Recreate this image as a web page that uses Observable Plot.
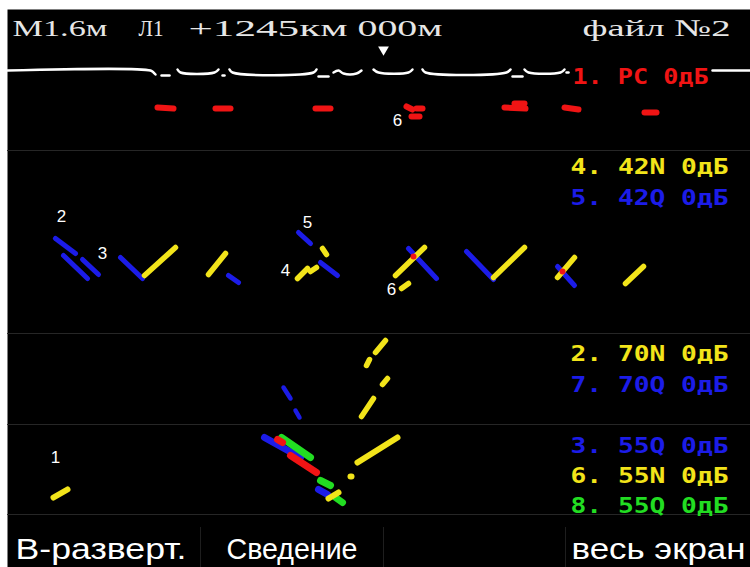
<!DOCTYPE html>
<html><head><meta charset="utf-8">
<script src="https://cdn.jsdelivr.net/npm/d3@7"></script>
<script src="https://cdn.jsdelivr.net/npm/@observablehq/plot@0.6"></script>
<style>
html,body{margin:0;padding:0;background:#fff;}
#chart svg{display:block;}
</style></head><body><div id="chart"></div>
<script>
// ================= DATA =================
// header of the flaw-detector screen
const headerText = ["М1.6м", "Л1", "+1245км", "000м", "файл №2"];
// bottom menu
const menuText = ["В-разверт.", "Сведение", "весь экран"];
// channel legend (number, angle, gain)
const legendText = ["1. PC 0дБ", "4. 42N 0дБ", "5. 42Q 0дБ", "2. 70N 0дБ", "7. 70Q 0дБ", "3. 55Q 0дБ", "6. 55N 0дБ", "8. 55Q 0дБ"];
const legendChannel = ["rc", "n", "q", "n", "q", "q", "n", "g"];
// defect marks: label, coordinate, depth
const defectLabels = ["1", "2", "3", "4", "5", "6", "6"];
const defectCoord = [55, 61, 102, 285, 307, 391, 397];
const defectDepth = [457, 216, 253, 270, 222, 289, 120];
// cursor position
const cursorCoord = [383];
// channel 1 (РС): bottom echo trace, pieces of [coord, depth]
const bottomEcho = [
  [[7,70],[150,70],[153,72],[155,74]],
  [[161,75],[169,75]],
  [[177,69],[180,72],[214,72],[218,69]],
  [[222,75],[224,75]],
  [[229,69],[232,72],[313,72],[316,69]],
  [[318,76],[328,76]],
  [[333,72],[338,70],[343,73],[356,73],[361,70]],
  [[373,69],[378,72],[408,72],[412,69]],
  [[422,69],[425,72],[506,72],[510,69]],
  [[512,76],[522,76]],
  [[524,69],[528,72],[560,72],[564,69]],
  [[566,72],[568,72]],
  [[712,70],[750,70]]
];
// channel 1 (РС): echo signals [coord1, depth1, coord2, depth2]
const rcEchoes = [
  [157,107,173,108],[215,108,230,108],[315,108,330,108],
  [406,106,412,109],[416,108,422,108],[411,116,419,116],
  [504,107,525,108],[514,103,524,103],[564,107,578,109],[644,112,656,112]
];
// 42° channels
const ch42N = [
  [144,275,175,247],[208,274,225,253],[322,248,326,254],[297,278,307,268],
  [310,271,316,267],[395,275,424,247],[401,288,408,283],[493,277,524,247],
  [557,277,574,257],[625,283,643,266]
];
const ch42Q = [
  [55,238,75,253],[63,255,87,278],[82,259,98,274],[120,257,142,278],
  [228,275,238,282],[298,232,310,243],[320,262,337,275],[408,248,436,278],
  [466,251,493,279],[557,266,574,285]
];
const ch42Overlap = [[413,256],[562,271]];
// 70° channels
const ch70N = [[375,352,385,340],[366,365,369,359],[382,384,387,378],[361,416,373,398]];
const ch70Q = [[283,387,290,398],[295,410,299,417]];
// 55° channels
const ch55Q3 = [[264,437,300,457],[318,489,327,494]];
const ch55N = [[53,497,67,489],[357,462,397,437],[350,476,351,476],[328,498,338,492]];
const ch55Q8 = [[281,437,310,457],[320,480,330,485],[335,497,342,502]];
const ch55Overlap = [[277,439,282,442],[290,455,316,472]];
// band separators (depth)
const bandEdges = [150, 333, 424, 514];
const menuEdges = [200, 383, 565];

// ================= STYLE =================
const C = {rc: "#f01414", n: "#f2e41a", q: "#1c1ce8", g: "#22dd22", w: "#ffffff"};
const seg = a => a.map(([x1,y1,x2,y2]) => ({x1,y1,x2,y2}));
const trace = bottomEcho.flatMap((p, i) => p.map(([x,y]) => ({i, x, y})));
const link = (data, color, w, extra={}) => Plot.link(seg(data), {x1:"x1", y1:"y1", x2:"x2", y2:"y2", stroke: color, strokeWidth: w, strokeLinecap: "round", ...extra});

const headerX = [12, 138, 188, 357, 582];
const headerW = [95, 25, 159, 85, 148];
const legendY = [76, 166, 197, 353, 384, 445, 475, 505];
const legendX = [572, 570, 570, 570, 570, 570, 570, 570];
const legendW = [136, 158, 158, 158, 158, 158, 158, 158];
const menuX = [15, 226, 571];
const menuW = [171, 131, 174];

const chart = Plot.plot({
  width: 750, height: 567,
  marginTop: 9, marginLeft: 7, marginRight: 0, marginBottom: 0,
  x: {domain: [7, 750], axis: null},
  y: {domain: [9, 567], reverse: true, axis: null},
  color: {type: "identity"},
  style: {background: "#ffffff", overflow: "visible"},
  marks: [
    Plot.frame({fill: "#000000", stroke: "none"}),
    Plot.ruleY(bandEdges, {stroke: "#262626", strokeWidth: 1}),
    Plot.ruleX(menuEdges, {y1: 527, y2: 567, stroke: "#1e1e1e", strokeWidth: 1}),
    // header (text group 0)
    Plot.text(headerText, {x: (d,i) => headerX[i], y: 28, text: d => d, textAnchor: "start", lineAnchor: "middle",
      fill: "#e6e6e6", fontFamily: "Liberation Serif", fontSize: 24}),
    Plot.dot(cursorCoord, {x: d => d, y: 49, symbol: "triangle", r: 4, rotate: 180, fill: C.w, stroke: "none"}),
    // channel 1
    Plot.line(trace, {x: "x", y: "y", z: "i", stroke: C.w, strokeWidth: 2.5, strokeLinecap: "round", curve: "catmull-rom"}),
    link(rcEchoes, C.rc, 6),
    // 42
    link(ch42Q, C.q, 5),
    link(ch42N, C.n, 5.5),
    Plot.dot(ch42Overlap, {x: d => d[0], y: d => d[1], r: 3, fill: C.rc}),
    // 70
    link(ch70Q, C.q, 4.5),
    link(ch70N, C.n, 5.5),
    // 55
    link(ch55Q3, C.q, 7),
    link(ch55Q8, C.g, 7),
    link(ch55Overlap, C.rc, 7),
    link(ch55N, C.n, 6),
    // defect numbers (text group 1)
    Plot.text(defectLabels, {x: (d,i) => defectCoord[i], y: (d,i) => defectDepth[i], text: d => d,
      fill: C.w, fontFamily: "Liberation Sans", fontSize: 17, lineAnchor: "middle"}),
    // legend (text group 2)
    Plot.text(legendText, {x: (d,i) => legendX[i], y: (d,i) => legendY[i], text: d => d,
      fill: (d,i) => C[legendChannel[i]], textAnchor: "start", lineAnchor: "middle",
      fontFamily: "DejaVu Sans Mono", fontWeight: "bold", fontSize: 22}),
    // menu (text group 3)
    Plot.text(menuText, {x: (d,i) => menuX[i], y: 558, text: d => d, textAnchor: "start", lineAnchor: "bottom",
      fill: C.w, fontFamily: "Liberation Sans", fontSize: 29})
  ]
});
const groups = chart.querySelectorAll('g[aria-label="text"]');
const fit = (g, widths) => g && g.querySelectorAll("text").forEach((t, i) => {
  t.setAttribute("textLength", widths[i]);
  t.setAttribute("lengthAdjust", "spacingAndGlyphs");
});
fit(groups[0], headerW);
fit(groups[2], legendW);
fit(groups[3], menuW);
document.getElementById("chart").appendChild(chart);
</script></body></html>
